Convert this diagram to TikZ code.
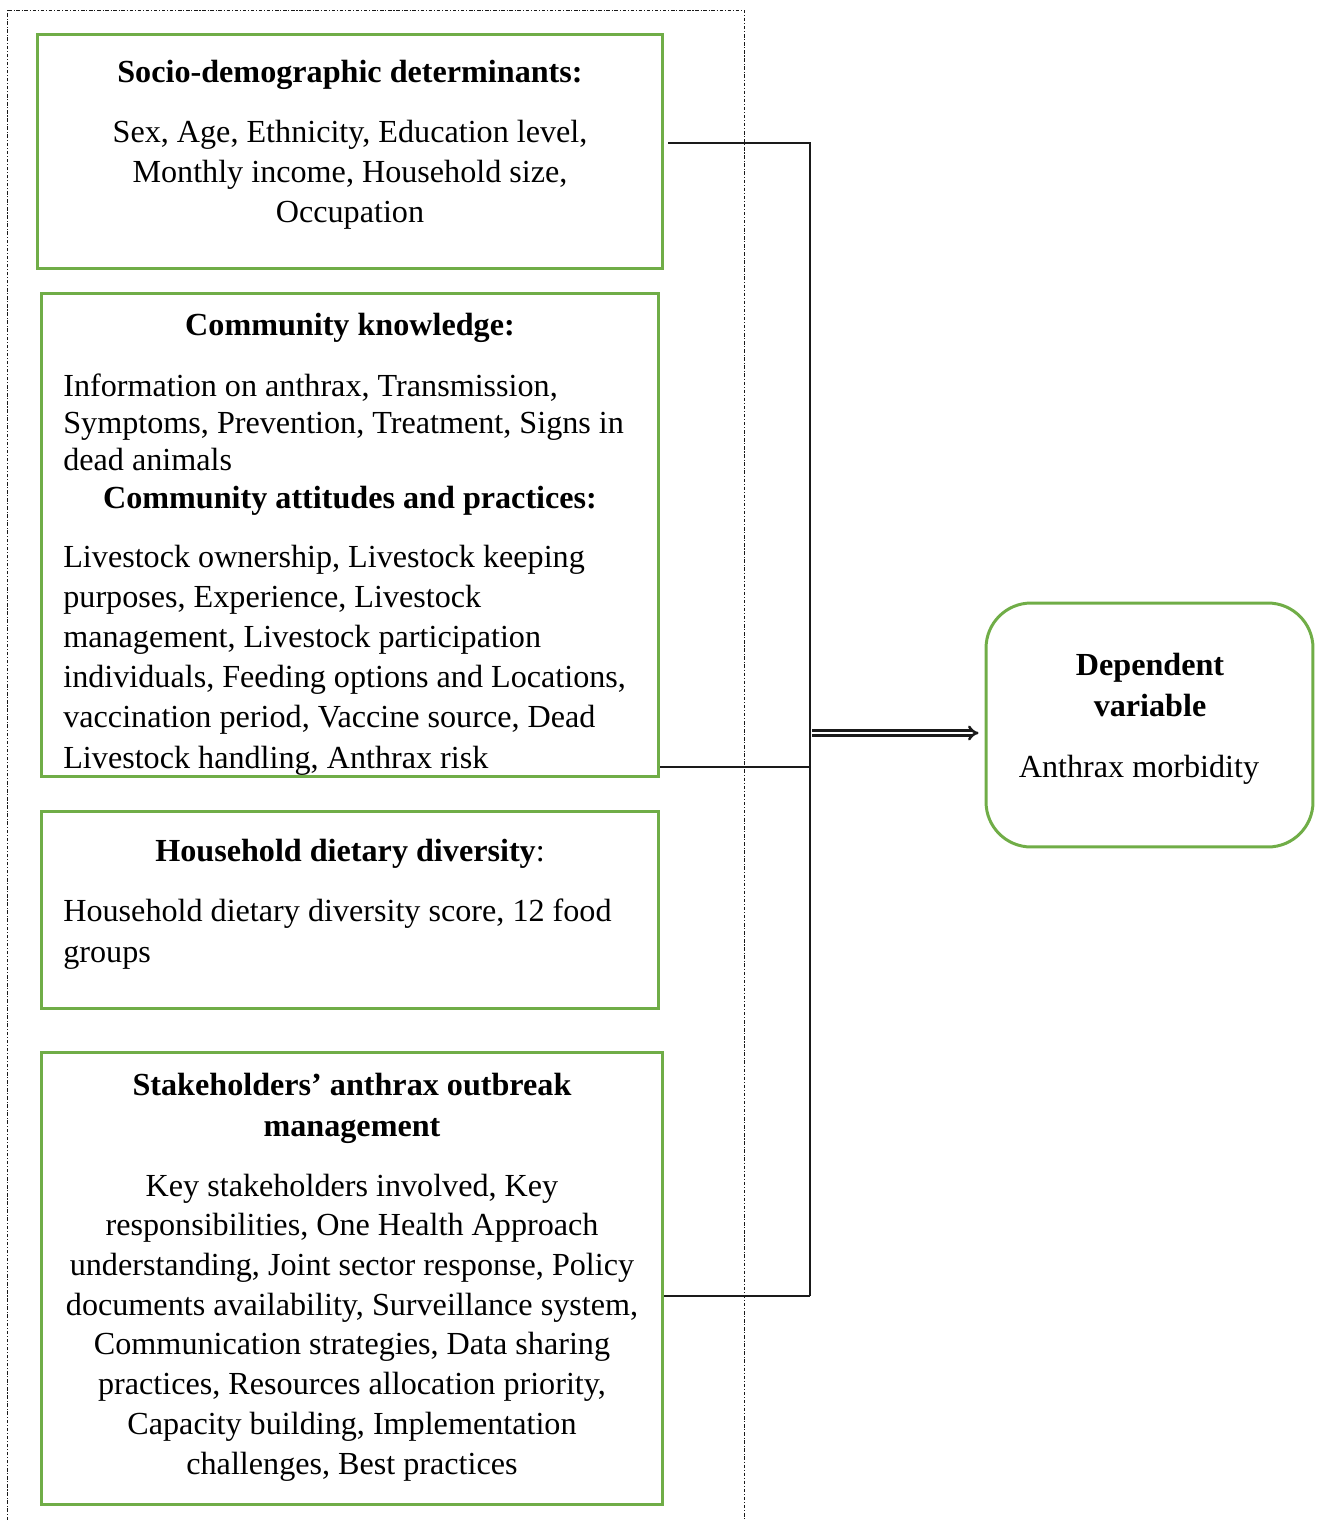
\documentclass[tikz,border=0pt]{standalone}
\usepackage{fontspec}
\setmainfont{Liberation Serif}
\usepackage{xcolor}
\usetikzlibrary{arrows.meta,positioning,calc}
\definecolor{leaf}     {HTML}{70AD47}
\definecolor{ink}      {HTML}{1A1A1A}

\tikzset{
  varbox/.style={draw=leaf,line width=1.7pt,inner sep=0pt},
  headtxt/.style={font=\fontsize{18.3}{22.8}\selectfont\bfseries,align=center,inner sep=0pt,anchor=base},
  bodytxt/.style={font=\fontsize{18.3}{22.8}\selectfont,inner sep=0pt,anchor=base},
  link/.style={draw=ink,line width=0.8pt},
  dblarrow/.style={draw=ink,double,double distance=1.3pt,line width=1.4pt,-{Implies}},
  frame/.style={draw=ink,line width=0.5pt,dash pattern=on 2pt off 1pt on 0.6pt off 1pt}
}

\begin{document}
\begin{tikzpicture}[x=0.02cm,y=-0.02cm]
  \useasboundingbox (0,0) rectangle (1317,1520);
  % outer frame of independent variables
  \draw[frame] (7,1520) -- (7,10) -- (744,10) -- (744,1520);

  % independent variable boxes
  \node[varbox,minimum width=12.52cm,minimum height=4.70cm] (socio) at (350,151.5) {};
  \node[varbox,minimum width=12.36cm,minimum height=9.68cm] (know)  at (350,535) {};
  \node[varbox,minimum width=12.36cm,minimum height=3.96cm] (diet)  at (350,910) {};
  \node[varbox,minimum width=12.44cm,minimum height=9.06cm] (stake) at (352,1278.5) {};

  % dependent variable
  \node[varbox,rounded corners=0.9cm,minimum width=6.54cm,minimum height=4.88cm] (dep) at (1149.5,725) {};

  % texts (multi-line nodes sit on the baseline of their last line)
  \node[headtxt] (sociohead) at (350,83) {Socio-demographic determinants:};
  \node[bodytxt,align=center] (sociobody) at (350,223)
    {Sex, Age, Ethnicity, Education level,\\
     Monthly income, Household size,\\
     Occupation};

  \node[headtxt] (knowhead) at (350,336) {Community knowledge:};
  \begin{scope}
    \clip (know.south west) rectangle (know.north east);
    \node[bodytxt,align=left,anchor=base west,font=\fontsize{18.3}{21.05}\selectfont] (knowbody) at (63,470)
      {Information on anthrax, Transmission,\\
       Symptoms, Prevention, Treatment, Signs in\\
       dead animals};
    \node[headtxt] (attihead) at (350,508) {Community attitudes and practices:};
    \node[bodytxt,align=left,anchor=base west] (attibody) at (63,768)
      {Livestock ownership, Livestock keeping\\
       purposes, Experience, Livestock\\
       management, Livestock participation\\
       individuals, Feeding options and Locations,\\
       vaccination period, Vaccine source, Dead\\
       Livestock handling, Anthrax risk};
  \end{scope}

  \node[headtxt] (diethead) at (350,861) {Household dietary diversity\textmd{:}};
  \node[bodytxt,align=left,anchor=base west] (dietbody) at (63,962)
    {Household dietary diversity score, 12 food\\
     groups};

  \node[headtxt] (stakehead) at (352,1136)
    {Stakeholders’ anthrax outbreak\\
     management};
  \node[bodytxt,align=center,font=\fontsize{18.3}{22.6}\selectfont] (stakebody) at (352,1474)
    {Key stakeholders involved, Key\\
     responsibilities, One Health Approach\\
     understanding, Joint sector response, Policy\\
     documents availability, Surveillance system,\\
     Communication strategies, Data sharing\\
     practices, Resources allocation priority,\\
     Capacity building, Implementation\\
     challenges, Best practices};

  \node[headtxt] (dephead) at (1150,716) {Dependent\\ variable};
  \node[bodytxt] (depbody) at (1139,777) {Anthrax morbidity};

  % connectors
  \coordinate (b1) at (810,143);
  \coordinate (b2) at (810,767);
  \coordinate (b4) at (810,1296);
  \coordinate (ba) at (812,733);
  \draw[link] ($(b1 -| socio.east)+(4,0)$) -- (b1) -- (b4);
  \draw[link] (b2 -| know.east) -- (b2);
  \draw[link] (b4 -| stake.east) -- (b4);
  \draw[dblarrow] (ba) -- ($(ba -| dep.west)+(-6,0)$);
\end{tikzpicture}
\end{document}
